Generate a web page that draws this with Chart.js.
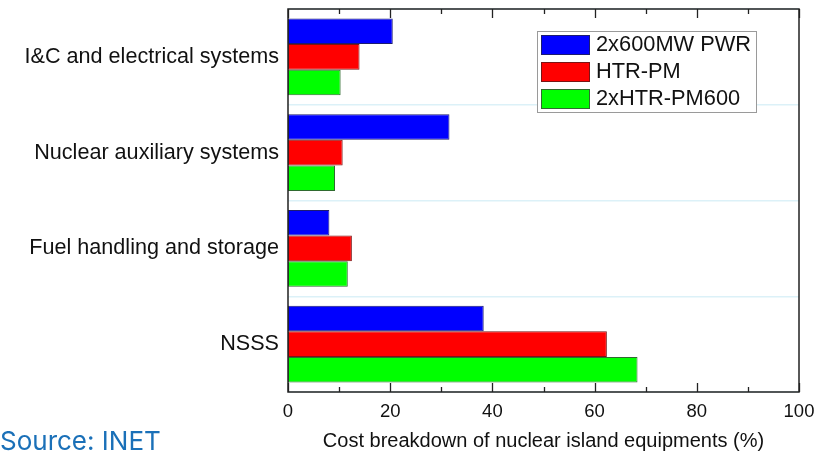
<!DOCTYPE html>
<html>
<head>
<meta charset="utf-8">
<script src="https://cdn.jsdelivr.net/npm/chart.js@4.4.1/dist/chart.umd.min.js"></script>
<style>
  html, body { margin: 0; padding: 0; background: #fff; }
  #wrap { position: relative; width: 826px; height: 455px; }
  #source {
    position: absolute; left: 0; top: 426px;
    font-family: Inter, "Noto Sans", sans-serif; font-size: 26px;
    color: #1a70b8; line-height: 30px;
  }
</style>
</head>
<body>
<div id="wrap">
  <canvas id="chart" width="826" height="455"></canvas>
  <div id="source">Source: INET</div>
</div>
<script>
  const categories = ["I&C and electrical systems", "Nuclear auxiliary systems", "Fuel handling and storage", "NSSS"];
  const seriesNames = ["2x600MW PWR", "HTR-PM", "2xHTR-PM600"];
  const pwr = [20.5, 31.6, 8.1, 38.3];
  const htrpm = [14.0, 10.7, 12.5, 62.4];
  const htrpm600 = [10.3, 9.2, 11.7, 68.4];
  const xTicks = [0, 20, 40, 60, 80, 100];

  const fills = ["#0000ff", "#ff0000", "#00ff00"];
  const edges = ["#1c1c70", "#7a1414", "#2f6a2f"];
  const font = "'Liberation Sans', Arial, sans-serif";

  // box, inward ticks and inside legend, as in the original plot
  const frame = {
    id: "frame",
    afterDatasetsDraw(chart) {
      const { ctx, chartArea: a, scales: { x } } = chart;
      ctx.save();
      ctx.strokeStyle = "#222";
      ctx.lineWidth = 1.3;
      for (let v = 0; v <= 100; v += 10) {
        const px = Math.round(x.getPixelForValue(v)) + 0.5;
        const len = v % 20 === 0 ? 9 : 5;
        ctx.beginPath();
        ctx.moveTo(px, a.bottom); ctx.lineTo(px, a.bottom - len);
        ctx.moveTo(px, a.top); ctx.lineTo(px, a.top + len);
        ctx.stroke();
      }
      ctx.lineWidth = 1.5;
      ctx.strokeRect(a.left, a.top, a.right - a.left, a.bottom - a.top);

      const lx = a.right - 262, ly = a.top + 22;
      ctx.fillStyle = "#fff";
      ctx.fillRect(lx, ly, 219, 81);
      ctx.strokeStyle = "#9a9a9a";
      ctx.lineWidth = 1;
      ctx.strokeRect(lx + 0.5, ly + 0.5, 219, 81);
      ctx.font = "21.8px " + font;
      ctx.textBaseline = "middle";
      chart.data.datasets.forEach((ds, i) => {
        const ry = ly + 4 + i * 27;
        ctx.fillStyle = ds.backgroundColor;
        ctx.fillRect(lx + 4, ry, 48, 19);
        ctx.strokeStyle = ds.borderColor;
        ctx.strokeRect(lx + 4.5, ry + 0.5, 48, 19);
        ctx.fillStyle = "#111";
        ctx.fillText(ds.label, lx + 59, ry + 10);
      });
      ctx.restore();
    }
  };

  new Chart(document.getElementById("chart"), {
    type: "bar",
    data: {
      labels: categories,
      datasets: [pwr, htrpm, htrpm600].map((data, i) => ({
        label: seriesNames[i],
        data,
        backgroundColor: fills[i],
        borderColor: edges[i],
        borderWidth: 1,
        borderSkipped: false,
        categoryPercentage: 0.8,
        barPercentage: 1.0
      }))
    },
    options: {
      indexAxis: "y",
      responsive: false,
      animation: false,
      layout: { padding: { top: 9, right: 27, left: 0, bottom: 0 } },
      plugins: { legend: { display: false }, tooltip: { enabled: false } },
      scales: {
        x: {
          min: 0, max: 100,
          afterBuildTicks: (s) => { s.ticks = xTicks.map((value) => ({ value })); },
          afterFit: (s) => { s.height = 63; s.paddingLeft = 0; s.paddingRight = 0; },
          grid: { display: false, drawTicks: false },
          border: { display: false },
          ticks: { color: "#111", font: { family: font, size: 18.5 }, padding: 9 },
          title: {
            display: true,
            text: "Cost breakdown of nuclear island equipments (%)",
            color: "#111",
            font: { family: font, size: 20 },
            padding: { top: 0, bottom: 2 }
          }
        },
        y: {
          afterFit: (s) => { s.width = 288; s.paddingTop = 0; s.paddingBottom = 0; },
          grid: { color: "#dcf1f8", lineWidth: 1.5, offset: true, drawTicks: false },
          border: { display: false },
          ticks: { color: "#111", font: { family: font, size: 21.6 }, padding: 9 }
        }
      }
    },
    plugins: [frame]
  });
</script>
</body>
</html>
